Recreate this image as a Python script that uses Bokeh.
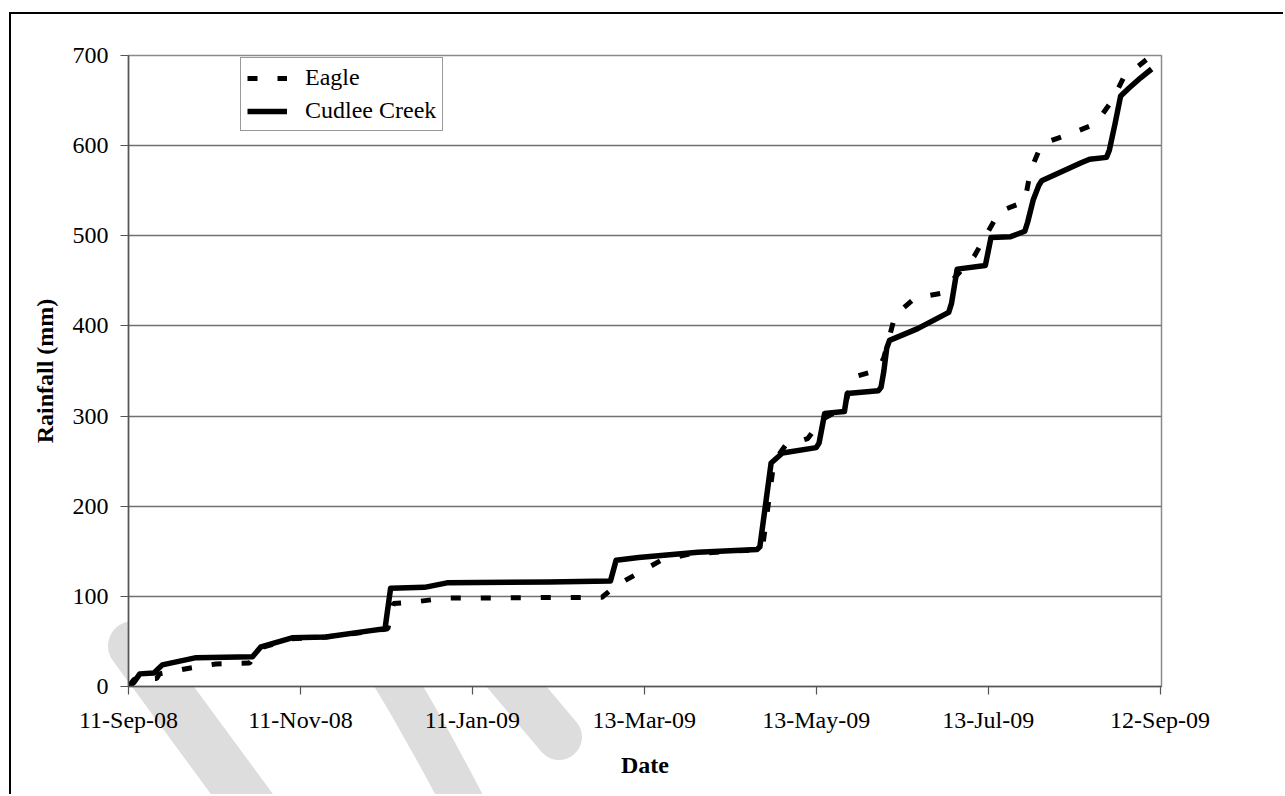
import pandas as pd
from datetime import datetime
from bokeh.plotting import figure
from bokeh.models import (Range1d, FixedTicker, DatetimeTickFormatter, Legend,
                          LegendItem, ColumnDataSource)
from bokeh.embed import file_html
from bokeh.resources import INLINE

# ---------------- data ----------------
tick_dates = ["2008-09-11", "2008-11-11", "2009-01-11", "2009-03-13",
              "2009-05-13", "2009-07-13", "2009-09-12"]
y_ticks = [0, 100, 200, 300, 400, 500, 600, 700]

cudlee_dates = ["2008-09-11", "2008-09-13", "2008-09-15", "2008-09-20", "2008-09-23",
                "2008-10-05", "2008-10-25", "2008-10-28", "2008-11-08", "2008-11-20",
                "2008-12-06", "2008-12-11", "2008-12-13", "2008-12-25", "2009-01-02",
                "2009-02-07", "2009-03-01", "2009-03-03", "2009-03-11", "2009-04-01",
                "2009-04-22", "2009-04-23", "2009-04-27", "2009-05-01", "2009-05-13",
                "2009-05-14", "2009-05-16", "2009-05-23", "2009-05-24", "2009-06-04",
                "2009-06-05", "2009-06-06", "2009-06-07", "2009-06-08", "2009-06-18",
                "2009-06-29", "2009-06-30", "2009-07-02", "2009-07-12", "2009-07-14",
                "2009-07-21", "2009-07-26", "2009-07-27", "2009-07-29", "2009-07-31",
                "2009-08-01", "2009-08-15", "2009-08-18", "2009-08-24", "2009-08-25",
                "2009-08-27", "2009-08-29", "2009-09-01", "2009-09-05", "2009-09-09"]
cudlee_mm = [0, 5, 14, 15, 24,
             32, 33, 44, 54, 55,
             62, 64, 109, 110, 115,
             116, 117, 140, 143, 149,
             152, 155, 248, 259, 265,
             270, 303, 305, 325, 328,
             332, 350, 375, 384, 397,
             415, 425, 463, 467, 498,
             499, 505, 515, 540, 556,
             561, 581, 585, 587, 595,
             624, 655, 664, 675, 685]

eagle_dates = ["2008-09-11", "2008-09-13", "2008-09-21", "2008-09-22", "2008-10-02",
               "2008-10-12", "2008-10-24", "2008-10-27", "2008-11-08", "2008-11-20",
               "2008-12-06", "2008-12-12", "2008-12-14", "2008-12-22", "2009-01-01",
               "2009-02-26", "2009-03-03", "2009-03-11", "2009-03-19", "2009-03-29",
               "2009-04-23", "2009-04-24", "2009-04-28", "2009-05-02", "2009-05-10",
               "2009-05-15", "2009-05-23", "2009-05-26", "2009-06-04", "2009-06-06",
               "2009-06-10", "2009-06-17", "2009-06-26", "2009-07-08", "2009-07-17",
               "2009-07-26", "2009-07-28", "2009-08-01", "2009-08-11", "2009-08-20",
               "2009-08-26", "2009-08-30", "2009-09-07", "2009-09-10"]
eagle_mm = [0, 8, 9, 14, 20,
            25, 26, 42, 53, 55,
            61, 64, 92, 94, 98,
            99, 112, 126, 140, 147,
            152, 155, 250, 267, 275,
            296, 310, 343, 351, 365,
            412, 431, 436, 477, 527,
            538, 572, 602, 613, 624,
            650, 675, 695, 702]

# ---------------- figure ----------------
FONT = "Liberation Serif"
W, H = 1274, 782

# light grey "draft" strokes behind the chart (visible only outside the plot area)
wm = ("data:image/svg+xml;utf8,<svg xmlns='http://www.w3.org/2000/svg' "
      f"width='{W}' height='{H}'>"
      "<g stroke='rgb(221,221,221)' stroke-linecap='round' fill='none'>"
      "<path d='M124 634 L252 808' stroke-width='50'/>"
      "<path d='M374 648 Q418 720 458 798' stroke-width='42'/>"
      "<path d='M464 623 L550 725' stroke-width='46'/>"
      "</g></svg>")

p = figure(width=W, height=H, x_axis_type="datetime",
           x_range=Range1d(datetime(2008, 9, 11), datetime(2009, 9, 12, 12)),
           y_range=Range1d(0, 700),
           output_backend="svg", toolbar_location=None,
           min_border_left=119, min_border_right=W - 119 - 1033,
           min_border_top=43, min_border_bottom=H - 43 - 631)
p.margin = (12, 0, 0, 9)
p.styles = {"box-shadow": "inset 2px 2px 0 0 black",
            "background-image": f'url("{wm}")',
            "background-repeat": "no-repeat"}
p.border_fill_color = None
p.background_fill_color = "white"
p.outline_line_color = "#8a8a8a"
p.outline_line_width = 1.5

src_e = ColumnDataSource(dict(x=pd.to_datetime(eagle_dates), y=eagle_mm))
src_c = ColumnDataSource(dict(x=pd.to_datetime(cudlee_dates), y=cudlee_mm))

r_e = p.line("x", "y", source=src_e, line_color="black", line_width=5,
             line_dash="10 20", line_cap="butt")
r_c = p.line("x", "y", source=src_c, line_color="black", line_width=5.5,
             line_join="round")

# axes
xa = p.xaxis[0]
xa.ticker = FixedTicker(ticks=[pd.Timestamp(d).value / 1e6 for d in tick_dates])
fmt = "%d-%b-%y"
xa.formatter = DatetimeTickFormatter(milliseconds=fmt, seconds=fmt, minsec=fmt,
                                     minutes=fmt, hourmin=fmt, hours=fmt, days=fmt,
                                     months=fmt, years=fmt)
ya = p.yaxis[0]
ya.ticker = FixedTicker(ticks=y_ticks)

for ax in (xa, ya):
    ax.axis_line_color = "#555555"
    ax.axis_line_width = 1.5
    ax.major_tick_line_color = "#555555"
    ax.major_tick_line_width = 1.2
    ax.major_tick_out = 8
    ax.major_tick_in = 0
    ax.minor_tick_line_color = None
    ax.major_label_text_font = FONT
    ax.major_label_text_font_size = "24px"
    ax.major_label_text_color = "black"
    ax.axis_label_text_font = FONT
    ax.axis_label_text_font_size = "24px"
    ax.axis_label_text_font_style = "bold"
    ax.axis_label_text_color = "black"

xa.axis_label = "Date"
xa.major_label_standoff = 12
xa.axis_label_standoff = 16
ya.axis_label = "Rainfall (mm)"
ya.major_label_standoff = 12
ya.axis_label_standoff = 12

p.xgrid.grid_line_color = None
p.ygrid.grid_line_color = "#707070"
p.ygrid.grid_line_width = 1.5

legend = Legend(items=[LegendItem(label="Eagle", renderers=[r_e]),
                       LegendItem(label="Cudlee Creek", renderers=[r_c])],
                location=(112, 555))
legend.label_text_font = FONT
legend.label_text_font_size = "24px"
legend.label_text_color = "black"
legend.glyph_width = 40
legend.glyph_height = 26
legend.label_height = 26
legend.label_standoff = 18
legend.spacing = 6
legend.padding = 6
legend.margin = 0
legend.border_line_color = "#333333"
legend.border_line_width = 1
legend.background_fill_color = "white"
legend.background_fill_alpha = 1
p.add_layout(legend)

open("out.html", "w").write(file_html(p, INLINE))
